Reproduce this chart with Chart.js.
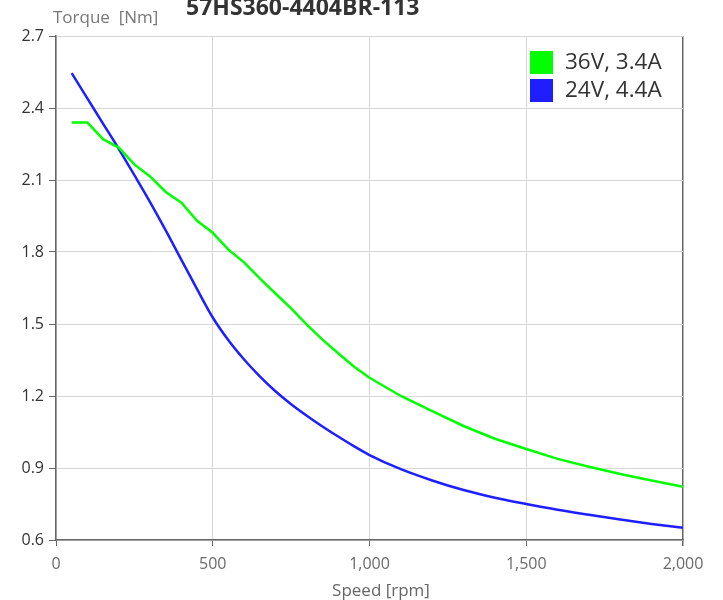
<!DOCTYPE html>
<html>
<head>
<meta charset="utf-8">
<script src="https://cdn.jsdelivr.net/npm/chart.js@4"></script>
<style>
  html, body { margin: 0; padding: 0; background: #fff; }
  #wrap { width: 723px; height: 600px; }
</style>
</head>
<body>
<div id="wrap"><canvas id="torqueChart" width="723" height="600"></canvas></div>
<script>
// ============================================================
// DATA
// ============================================================
const chartTitle = '57HS360-4404BR-113';
const yAxisTitle = 'Torque  [Nm]';
const xAxisTitle = 'Speed [rpm]';

const speeds = [50, 100, 150, 200, 250, 300, 350, 400, 450, 500, 550, 600, 650, 700, 750,
    800, 850, 900, 950, 1000, 1100, 1200, 1300, 1400, 1500, 1600, 1700, 1800, 1900, 2000];

const torque36V = [2.34, 2.34, 2.27, 2.235, 2.165, 2.115, 2.05, 2.005, 1.93, 1.88, 1.81, 1.757, 1.69, 1.627, 1.565,
    1.497, 1.435, 1.378, 1.323, 1.276, 1.2, 1.137, 1.075, 1.022, 0.979, 0.938, 0.905, 0.875, 0.848, 0.822];

const torque24V = [2.545, 2.44, 2.335, 2.23, 2.12, 2.008, 1.89, 1.767, 1.645, 1.527, 1.432, 1.352, 1.282, 1.22, 1.166,
    1.118, 1.073, 1.031, 0.991, 0.954, 0.895, 0.848, 0.808, 0.776, 0.75, 0.726, 0.705, 0.685, 0.667, 0.651];

const seriesLabels = ['36V, 3.4A', '24V, 4.4A'];
const seriesColors = ['#00ff00', '#1e1eff'];

const xTicks = [0, 500, 1000, 1500, 2000];
const yTicks = [0.6, 0.9, 1.2, 1.5, 1.8, 2.1, 2.4, 2.7];

const toPoints = (xs, ys) => xs.map((x, i) => ({ x: x, y: ys[i] }));

// ============================================================
// TEXT + LEGEND PLUGIN
// ============================================================
const decorPlugin = {
    id: 'decor',
    afterDraw(chart) {
        const c = chart.ctx;
        const area = chart.chartArea;
        c.save();
        // title
        c.fillStyle = '#333';
        c.font = 'bold 23px "Open Sans"';
        c.textAlign = 'left';
        c.textBaseline = 'alphabetic';
        c.fillText(chartTitle, 186, 15);
        // y axis title
        c.fillStyle = '#777';
        c.font = '17px "Open Sans"';
        c.fillText(yAxisTitle, 53, 23);
        // x axis title
        c.fillStyle = '#666';
        c.textAlign = 'center';
        c.textBaseline = 'middle';
        c.fillText(xAxisTitle, 381, 591);
        // legend
        c.textAlign = 'left';
        c.font = '22.5px "Open Sans"';
        chart.data.datasets.forEach((ds, i) => {
            const top = area.top + 15 + i * 28;
            c.fillStyle = ds.borderColor;
            c.fillRect(area.right - 153, top, 23, 23);
            c.fillStyle = '#333';
            c.fillText(ds.label, area.right - 118, top + 12);
        });
        c.restore();
    }
};

// ============================================================
// CHART
// ============================================================
const ctx = document.getElementById('torqueChart').getContext('2d');
const torqueChart = new Chart(ctx, {
    type: 'line',
    data: {
        datasets: [
            { label: seriesLabels[0], data: toPoints(speeds, torque36V), borderColor: seriesColors[0], borderWidth: 2.5, pointRadius: 0, tension: 0 },
            { label: seriesLabels[1], data: toPoints(speeds, torque24V), borderColor: seriesColors[1], borderWidth: 2.5, pointRadius: 0, cubicInterpolationMode: 'monotone' }
        ]
    },
    options: {
        responsive: false,
        animation: false,
        layout: { padding: { top: 36, right: 40, left: 0, bottom: 0 } },
        plugins: { legend: { display: false }, title: { display: false }, tooltip: { enabled: false } },
        scales: {
            x: {
                type: 'linear', min: 0, max: 2000,
                afterFit: s => { s.height = 60; },
                afterBuildTicks: s => { s.ticks = xTicks.map(v => ({ value: v })); },
                grid: {
                    color: c => (c.tick && c.tick.value === 2000) ? '#666' : '#d6d6d6',
                    lineWidth: c => (c.tick && c.tick.value === 2000) ? 1.5 : 1,
                    tickColor: '#666', tickLength: 6
                },
                border: { color: '#666', width: 1.5 },
                ticks: { color: '#6a6a6a', font: { family: 'Open Sans', size: 16 }, padding: 9, maxRotation: 0,
                    callback: v => v.toLocaleString('en-US') }
            },
            y: {
                type: 'linear', min: 0.6, max: 2.7,
                afterFit: s => { s.width = 56; },
                afterBuildTicks: s => { s.ticks = yTicks.map(v => ({ value: v })); },
                grid: { color: '#d6d6d6', lineWidth: 1, tickColor: '#666', tickLength: 7 },
                border: { color: '#666', width: 1.5 },
                ticks: { color: '#333', font: { family: 'Open Sans', size: 16 }, padding: 5,
                    callback: v => v.toFixed(1) }
            }
        }
    },
    plugins: [decorPlugin]
});
</script>
</body>
</html>
